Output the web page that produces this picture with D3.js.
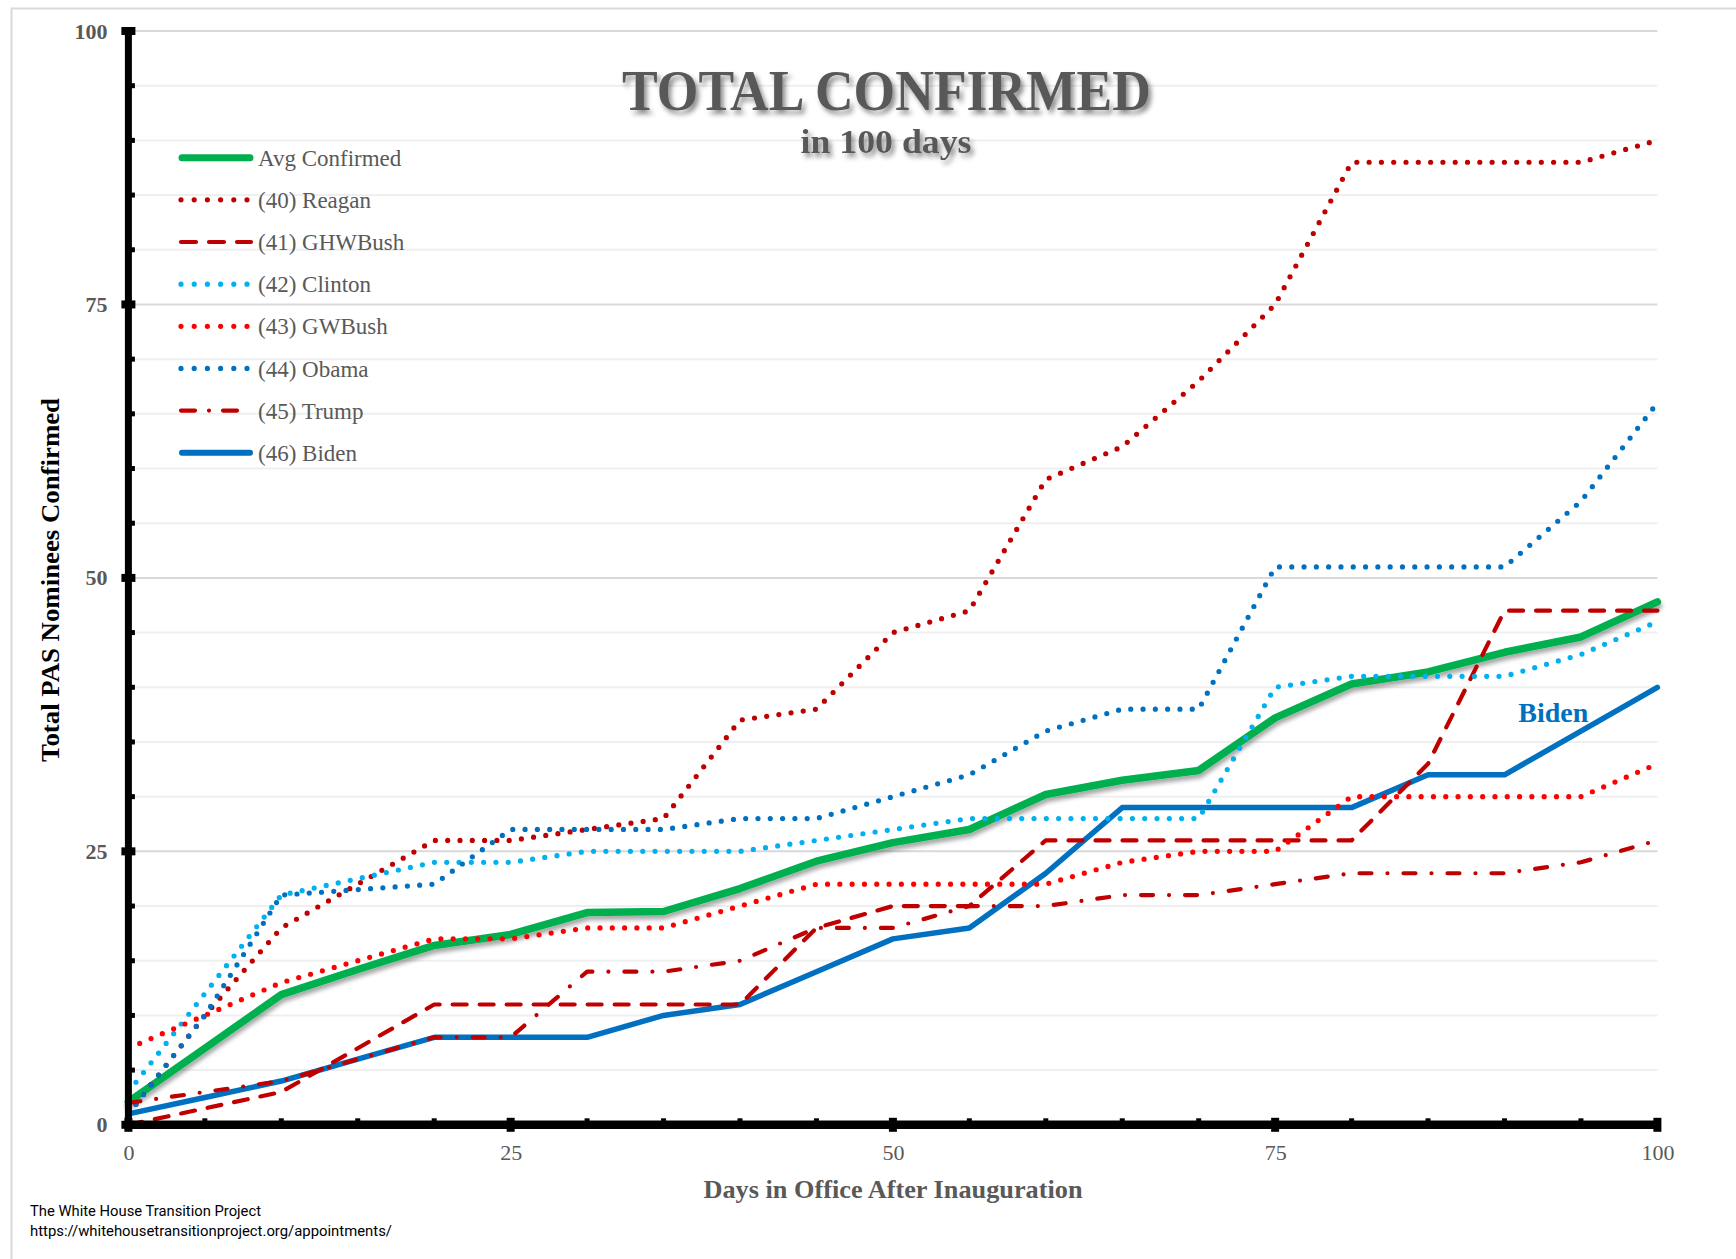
<!DOCTYPE html>
<html>
<head>
<meta charset="utf-8">
<script src="https://cdn.jsdelivr.net/npm/d3@7"></script>
<style>
  html, body { margin: 0; padding: 0; background: #fff; }
  svg { display: block; }
</style>
</head>
<body>
<svg id="chart" width="1736" height="1259"></svg>
<script>
// Days in office, sampled every five days
const days = [0, 5, 10, 15, 20, 25, 30, 35, 40, 45, 50, 55, 60, 65, 70, 75, 80, 85, 90, 95, 100];

// Total PAS nominees confirmed by day
const avgConfirmed = [2.1, 7, 11.9, 14.2, 16.4, 17.4, 19.4, 19.5, 21.6, 24.1, 25.8, 27.0, 30.2, 31.5, 32.4, 37.2, 40.3, 41.4, 43.2, 44.6, 47.8];
const reagan  = [1, 10, 18, 22, 26, 26, 27, 28, 37, 38, 45, 47, 59, 62, 68, 75, 88, 88, 88, 88, 90];
const ghwBush = [0, 1.5, 3, 7, 11, 11, 11, 11, 11, 18, 20, 20, 26, 26, 26, 26, 26, 33, 47, 47, 47];
const clinton = [3, 12, 21, 22.5, 24, 24, 25, 25, 25, 26, 27, 28, 28, 28, 28, 40, 41, 41, 41, 43, 46];
const gwBush  = [7, 10, 13, 15, 17, 17, 18, 18, 20, 22, 22, 22, 22, 24, 25, 25, 30, 30, 30, 30, 33];
const obama   = [1, 10, 21, 21.5, 22, 27, 27, 27, 28, 28, 30, 32, 36, 38, 38, 51, 51, 51, 51, 57, 66];
const trump   = [2, 3, 4, 6, 8, 8, 14, 14, 15, 18, 18, 20, 20, 21, 21, 22, 23, 23, 23, 24, 26];
const biden   = [1, 2.5, 4, 6, 8, 8, 8, 10, 11, 14, 17, 18, 23, 29, 29, 29, 29, 32, 32, 36, 40];

const seriesNames = ["Avg Confirmed", "(40) Reagan", "(41) GHWBush", "(42) Clinton",
                     "(43) GWBush", "(44) Obama", "(45) Trump", "(46) Biden"];
const axisTicks = [0, 25, 50, 75, 100];

const W = 1736, H = 1259;
const serif = '"Liberation Serif", "Times New Roman", serif';
const svg = d3.select("#chart");

const x = d3.scaleLinear().domain([0, 100]).range([128.4, 1657.4]);
const y = d3.scaleLinear().domain([0, 100]).range([1124.8, 31]);

// Series styling
const DOT = "0 12.3";
const LDOT = "0 13.2";
const series = [
  { name: seriesNames[0], values: avgConfirmed, color: "#00B050", width: 7.5, dash: null,         shadow: true,  legendDash: null },
  { name: seriesNames[7], values: biden,        color: "#0070C0", width: 5.5, dash: null,         shadow: false, legendDash: null },
  { name: seriesNames[1], values: reagan,       color: "#C00000", width: 5.2, dash: DOT,          legendDash: LDOT },
  { name: seriesNames[2], values: ghwBush,      color: "#C00000", width: 4.2, dash: "14 13",      legendDash: "15 13" },
  { name: seriesNames[3], values: clinton,      color: "#00B0F0", width: 5.2, dash: DOT,          legendDash: LDOT },
  { name: seriesNames[4], values: gwBush,       color: "#FF0000", width: 5.2, dash: DOT,          legendDash: LDOT },
  { name: seriesNames[5], values: obama,        color: "#0070C0", width: 5.2, dash: DOT,          legendDash: LDOT },
  { name: seriesNames[6], values: trump,        color: "#C00000", width: 4.2, dash: "12 16 0 16", legendDash: "14 14 0 14" }
];

// Filters: soft drop shadows for the average line, title and day-100 marker
const defs = svg.append("defs");
defs.append("filter").attr("id", "lineShadow")
    .attr("x", "-5%").attr("y", "-10%").attr("width", "110%").attr("height", "130%")
  .append("feDropShadow").attr("dx", 1).attr("dy", 4).attr("stdDeviation", 2.2)
    .attr("flood-color", "#000").attr("flood-opacity", 0.35);
defs.append("filter").attr("id", "textShadow")
    .attr("x", "-10%").attr("y", "-20%").attr("width", "120%").attr("height", "160%")
  .append("feDropShadow").attr("dx", 3).attr("dy", 4).attr("stdDeviation", 2.5)
    .attr("flood-color", "#000").attr("flood-opacity", 0.45);
defs.append("filter").attr("id", "markerShadow")
    .attr("x", "-200%").attr("y", "-2%").attr("width", "500%").attr("height", "104%")
  .append("feDropShadow").attr("dx", 3).attr("dy", 2).attr("stdDeviation", 2)
    .attr("flood-color", "#000").attr("flood-opacity", 0.25);

// Outer frame
svg.append("path")
  .attr("d", `M11.5,${H} V8.5 H${W}`)
  .attr("fill", "none").attr("stroke", "#d9d9d9").attr("stroke-width", 2);

// Horizontal gridlines every 5, darker at the labelled values
const gridVals = d3.range(5, 101, 5);
svg.append("g").selectAll("line").data(gridVals).join("line")
  .attr("x1", x(0)).attr("x2", x(100))
  .attr("y1", d => y(d)).attr("y2", d => y(d))
  .attr("stroke", d => d % 25 === 0 ? "#d9d9d9" : "#efefef")
  .attr("stroke-width", 2);

// Title
svg.append("text")
  .attr("x", 886.5).attr("y", 110)
  .attr("text-anchor", "middle")
  .attr("textLength", 529).attr("lengthAdjust", "spacingAndGlyphs")
  .style("font-family", serif).style("font-weight", "bold").style("font-size", "57px")
  .attr("fill", "#595959").attr("filter", "url(#textShadow)")
  .text("TOTAL CONFIRMED");
svg.append("text")
  .attr("x", 886).attr("y", 153)
  .attr("text-anchor", "middle")
  .attr("textLength", 171).attr("lengthAdjust", "spacingAndGlyphs")
  .style("font-family", serif).style("font-weight", "bold").style("font-size", "34px")
  .attr("fill", "#595959").attr("filter", "url(#textShadow)")
  .text("in 100 days");

// Day-100 marker
svg.append("line")
  .attr("x1", x(100)).attr("x2", x(100))
  .attr("y1", 48).attr("y2", y(0))
  .attr("stroke", "#00B050").attr("stroke-width", 5)
  .attr("stroke-dasharray", "5 7")
  .attr("filter", "url(#markerShadow)");

// Series lines
const line = d3.line()
  .x((d, i) => x(days[i]))
  .y(d => y(d))
  .curve(d3.curveLinear);

svg.append("g").selectAll("path").data(series).join("path")
  .attr("d", d => line(d.values))
  .attr("fill", "none")
  .attr("stroke", d => d.color)
  .attr("stroke-width", d => d.width)
  .attr("stroke-linecap", "round")
  .attr("stroke-linejoin", "round")
  .attr("stroke-dasharray", d => d.dash)
  .attr("filter", d => d.shadow ? "url(#lineShadow)" : null);

// "Biden" annotation
svg.append("text")
  .attr("x", x(90.9)).attr("y", y(36.8))
  .style("font-family", serif).style("font-weight", "bold").style("font-size", "28px")
  .attr("fill", "#0070C0")
  .text("Biden");

// Axis tick marks (every 5) and thick axis lines
const minor = d3.range(5, 100, 5);
const axG = svg.append("g").attr("fill", "#000");
axG.selectAll("rect.ymin").data(minor).join("rect")
  .attr("x", x(0)).attr("y", d => y(d) - 2.5).attr("width", 6.5).attr("height", 5);
axG.selectAll("rect.xmin").data(minor).join("rect")
  .attr("x", d => x(d) - 2.5).attr("y", y(0) - 6.5).attr("width", 5).attr("height", 6.5);
axG.append("line")
  .attr("x1", x(0)).attr("x2", x(0)).attr("y1", y(100)).attr("y2", y(0))
  .attr("stroke", "#000").attr("stroke-width", 7);
axG.append("line")
  .attr("x1", x(0) - 3.5).attr("x2", x(100) + 3).attr("y1", y(0)).attr("y2", y(0))
  .attr("stroke", "#000").attr("stroke-width", 8.5);
axG.selectAll("rect.ymaj").data(axisTicks).join("rect")
  .attr("x", x(0) - 7).attr("y", d => y(d) - 4).attr("width", 14).attr("height", 8);
axG.selectAll("rect.xmaj").data(axisTicks).join("rect")
  .attr("x", d => x(d) - 4).attr("y", y(0) - 7).attr("width", 8).attr("height", 14);

// Axis labels
const yAxis = svg.append("g")
  .attr("transform", `translate(${x(0)},0)`)
  .call(d3.axisLeft(y).tickValues(axisTicks).tickSize(0).tickPadding(21));
yAxis.select(".domain").remove();
yAxis.selectAll("text")
  .style("font-family", serif).style("font-weight", "bold").style("font-size", "22px")
  .attr("fill", "#595959");

const xAxis = svg.append("g")
  .attr("transform", `translate(0,${y(0)})`)
  .call(d3.axisBottom(x).tickValues(axisTicks).tickSize(0).tickPadding(20));
xAxis.select(".domain").remove();
xAxis.selectAll("text")
  .style("font-family", serif).style("font-size", "22px")
  .attr("fill", "#595959");

// Axis titles
svg.append("text")
  .attr("transform", `translate(59,580) rotate(-90)`)
  .attr("text-anchor", "middle")
  .attr("textLength", 364).attr("lengthAdjust", "spacingAndGlyphs")
  .style("font-family", serif).style("font-weight", "bold").style("font-size", "25px")
  .attr("fill", "#000")
  .text("Total PAS Nominees Confirmed");
svg.append("text")
  .attr("x", 893).attr("y", 1198)
  .attr("text-anchor", "middle")
  .attr("textLength", 379).attr("lengthAdjust", "spacingAndGlyphs")
  .style("font-family", serif).style("font-weight", "bold").style("font-size", "25px")
  .attr("fill", "#595959")
  .text("Days in Office After Inauguration");

// Legend
const legendOrder = [0, 2, 3, 4, 5, 6, 7, 1];
const legend = svg.append("g").selectAll("g").data(legendOrder.map(i => series[i])).join("g")
  .attr("transform", (d, i) => `translate(0,${157.7 + i * 42.15})`);
legend.append("line")
  .attr("x1", d => d.dash ? 181 : 182).attr("x2", d => d.dash ? 251 : 250)
  .attr("y1", 0).attr("y2", 0)
  .attr("stroke", d => d.color)
  .attr("stroke-width", d => d.name === seriesNames[0] ? 7 : (d.dash ? d.width : 6))
  .attr("stroke-linecap", "round")
  .attr("stroke-dasharray", d => d.legendDash);
legend.append("text")
  .attr("x", 258).attr("y", 0).attr("dy", "0.35em")
  .style("font-family", serif).style("font-size", "23px")
  .attr("fill", "#595959")
  .text(d => d.name);

// Source note
const note = svg.append("g")
  .style("font-family", "Roboto, 'Open Sans', sans-serif").style("font-size", "14px")
  .attr("fill", "#000");
note.append("text").attr("x", 30).attr("y", 1216)
  .attr("textLength", 231).attr("lengthAdjust", "spacingAndGlyphs")
  .text("The White House Transition Project");
note.append("text").attr("x", 30).attr("y", 1236)
  .attr("textLength", 362).attr("lengthAdjust", "spacingAndGlyphs")
  .text("https://whitehousetransitionproject.org/appointments/");
</script>
</body>
</html>
